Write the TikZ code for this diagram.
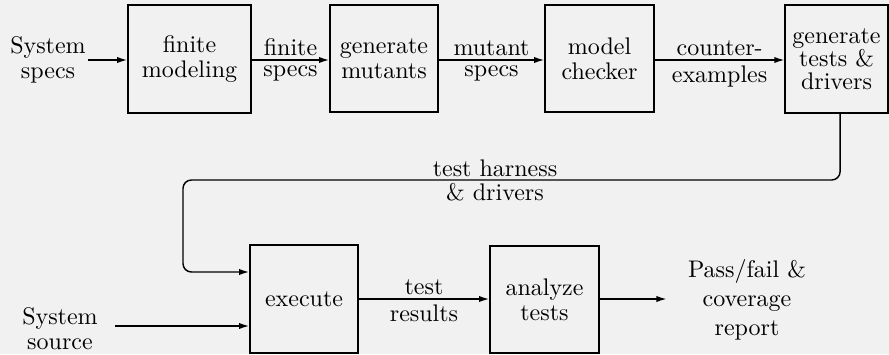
\documentclass[tikz,border=0pt]{standalone}
\usetikzlibrary{arrows.meta,calc}
\definecolor{bgc}{RGB}{241,241,241}
\begin{document}
\begin{tikzpicture}[x=0.4167pt,y=-0.4167pt,
  box/.style={draw, line width=0.7pt, align=center, inner sep=0pt, font=\fontsize{10}{10.5}\selectfont},
  lbl/.style={align=center, inner sep=0pt, font=\fontsize{10}{10.5}\selectfont},
  arr/.style={line width=0.6pt, -{Latex[length=4.2pt,width=2.6pt]}},
  up/.style={above, inner sep=1.4pt},
  dn/.style={below, inner sep=2.2pt}]
\fill[bgc] (0,0) rectangle (889,354);
\useasboundingbox (0,0) rectangle (889,354);
% top row
\node[lbl] (sspec) at (48,60) {System\\specs};
\node[box, minimum width=51.25pt, minimum height=45pt] (fm) at (189.5,59) {finite\\modeling};
\node[box, minimum width=45pt, minimum height=44.6pt] (gm) at (384,58.5) {generate\\mutants};
\node[box, minimum width=45.4pt, minimum height=44.6pt] (mc) at (599.5,58.5) {model\\checker};
\node[box, minimum width=42.7pt, minimum height=45pt, font=\fontsize{10}{9.5}\selectfont] (gtd) at (836.5,59) {generate\\tests \&\\drivers};
% bottom row
\node[lbl] (ssrc) at (60,329) {System\\source};
\node[box, minimum width=45pt, minimum height=45pt] (exec) at (304,299) {execute};
\node[box, minimum width=45.4pt, minimum height=44.6pt] (an) at (544.5,299.5) {analyze\\tests};
\node[align=center, inner sep=0pt] (pass) at (747,300) {Pass/fail \&\\coverage\\report};
% coordinates
\coordinate (sspecout) at (88,60);
\coordinate (ssin) at (115,326);
\coordinate (fbturn) at (183,180);
\coordinate (execin) at ($(exec.west)+(0,-27)$);
% connectors
\draw[arr] (sspecout) -- (sspecout -| fm.west);
\draw[arr] (fm.east |- sspecout) -- (gm.west |- sspecout)
  node[midway, up] {finite} node[midway, dn] {specs};
\draw[arr] (gm.east |- sspecout) -- (mc.west |- sspecout)
  node[midway, up] {mutant} node[midway, dn] {specs};
\draw[arr] (mc.east |- sspecout) -- (gtd.west |- sspecout)
  node[midway, up] {counter-} node[midway, dn] {examples};
\draw[arr, rounded corners=3.5pt] ([xshift=1.5pt]gtd.south) |- (fbturn) |- (execin);
\node[above, inner sep=1pt] (thl) at (495,180) {test harness};
\node[below, inner sep=1pt] (thl2) at (495,180) {\& drivers};
\draw[arr] (ssin) -- (ssin -| exec.west);
\draw[arr] (exec.east) -- (an.west |- exec.east)
  node[midway, up] {test} node[midway, dn] {results};
\draw[arr, shorten >=8.75pt] (an.east |- exec.east) -- (pass.west |- exec.east);
\end{tikzpicture}
\end{document}
